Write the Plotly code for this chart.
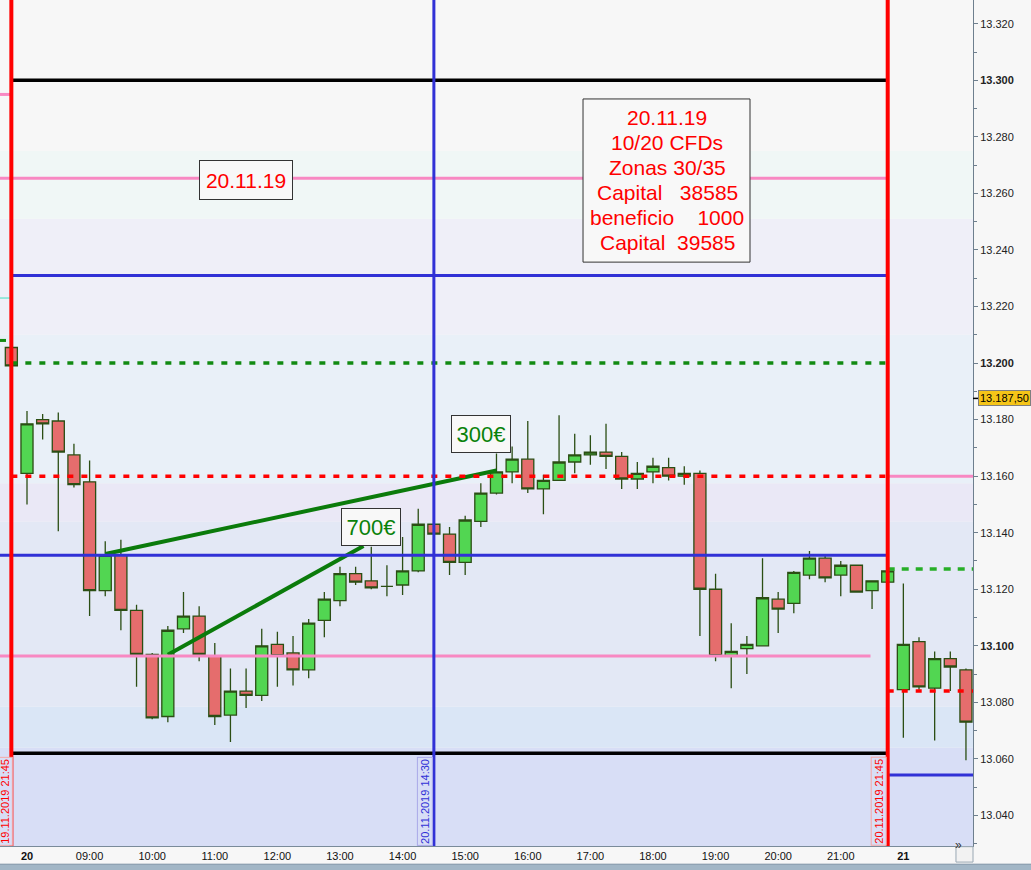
"""DAX 15 min chart 20.11.2019 - niveles, zonas y operaciones del día."""
import plotly.graph_objects as go

# ── Velas 15 min (índice de barra: -1 = 19.11 21:45, 0 = 20.11 08:00 ... 56+ = 21.11) ──
bar_idx = list(range(-1, 61))
opens = [13205.5, 13161, 13180, 13179.5, 13167.5, 13158, 13119.5, 13132, 13112.5, 13097,
         13075, 13106, 13110.5, 13096.5, 13075.5, 13084, 13082.5, 13100.5, 13097.5, 13091.5,
         13109, 13116, 13125.5, 13123, 13121, 13121.5, 13126.5, 13143, 13139.5, 13129.5,
         13144, 13154, 13161.5, 13166, 13155.5, 13158.5, 13165, 13167.5, 13168.5, 13167,
         13159, 13161.5, 13163, 13160, 13161, 13120, 13096.5, 13099, 13100, 13116.5,
         13115, 13125, 13131, 13125, 13128.5, 13119.5, 13122.5, 13084.5, 13101.5, 13085,
         13095.5, 13091.5]
highs = [13207, 13183, 13182, 13182.5, 13171.5, 13165.5, 13137, 13137.5, 13114.5, 13097.5,
         13107, 13119, 13114, 13101, 13092, 13092, 13106, 13105, 13103.5, 13109.5,
         13119, 13128, 13128, 13135, 13128.5, 13138.5, 13148.5, 13143, 13142, 13146,
         13157.5, 13168, 13170.5, 13179.5, 13160.5, 13181.5, 13175, 13174.5, 13178.5, 13168.5,
         13165, 13166.5, 13166.5, 13163.5, 13162, 13125.5, 13108, 13103.5, 13131, 13119,
         13126.5, 13133.5, 13132, 13130, 13128.5, 13123, 13126.5, 13122, 13103, 13098,
         13098, 13092]
lows = [13198, 13150, 13173, 13140.5, 13156, 13110.5, 13117.5, 13105.5, 13085.5, 13074,
        13073, 13104.5, 13094.5, 13072, 13066, 13078, 13080.5, 13085.5, 13086, 13088.5,
        13103, 13114, 13121.5, 13120, 13117.5, 13118, 13126, 13139.5, 13125, 13125,
        13142, 13153.5, 13157.5, 13154, 13146.5, 13158.5, 13161, 13164, 13162.5, 13155.5,
        13155.5, 13157.5, 13158.5, 13157, 13103.5, 13094.5, 13085, 13090, 13100, 13104.5,
        13111.5, 13123.5, 13122.5, 13117.5, 13119, 13113, 13122.5, 13067.5, 13084.5, 13066.5,
        13084, 13059.5]
closes = [13199, 13178.5, 13178.5, 13168.5, 13157, 13119.5, 13132, 13112.5, 13097, 13074.5,
          13105.5, 13110.5, 13097, 13075, 13084, 13082.5, 13100, 13096.5, 13091.5, 13108,
          13116.5, 13125.5, 13122.5, 13120.5, 13121, 13126.5, 13143, 13139.5, 13129.5, 13144.5,
          13154, 13161.5, 13166, 13155.5, 13158.5, 13165, 13167.5, 13168.5, 13167, 13159,
          13161, 13163.5, 13160, 13161, 13120, 13096.5, 13098, 13100.5, 13117, 13113,
          13126, 13131, 13124, 13128.5, 13119, 13123, 13126.5, 13100.5, 13085.5, 13095.5,
          13092.5, 13073]

x_tick_pos = [0, 4, 8, 12, 16, 20, 24, 28, 32, 36, 40, 44, 48, 52, 56]
x_tick_text = ['<b>20</b>', '09:00', '10:00', '11:00', '12:00', '13:00', '14:00', '15:00',
               '16:00', '17:00', '18:00', '19:00', '20:00', '21:00', '<b>21</b>']
y_tick_vals = [13040, 13060, 13080, 13100, 13120, 13140, 13160, 13180, 13200, 13220,
               13240, 13260, 13280, 13300, 13320]
y_tick_text = ['13.040', '13.060', '13.080', '<b>13.100</b>', '13.120', '13.140', '13.160',
               '13.180', '<b>13.200</b>', '13.220', '13.240', '13.260', '13.280',
               '<b>13.300</b>', '13.320']

# ── Niveles del día 20.11 ──
black_levels = [13300, 13062]
pink_levels = [13265.4, 13096.4]
blue_levels = [13231, 13132]
red_dash_level = 13160
green_dash_level = 13200
# ── Niveles para el día 21.11 ──
next_pink = 13160
next_green_dash = 13127.2
next_red_dash = 13084
next_blue = 13054.3
# restos del día anterior
prev_pink = 13295
prev_teal = 13223
prev_green = 13208

# zonas de fondo (precio inferior, precio superior)
zone_lo = [13000, 13064, 13078.5, 13144, 13157.5, 13210, 13251, 13275]
zone_hi = [13064, 13078.5, 13144, 13157.5, 13210, 13251, 13275, 13400]

# líneas verticales
vline_bars = [-1, 26, 55]
vline_labels = ['19.11.2019 21:45', '20.11.2019 14:30', '20.11.2019 21:45']

# operaciones (tendencias dibujadas)
trend_x = [[5, 30], [9, 21.5]]
trend_y = [[13132.5, 13162], [13096.8, 13135.3]]

summary_lines = ['20.11.19', '10/20 CFDs', 'Zonas 30/35', 'Capital\u00a0\u00a0\u00a038585',
                 'beneficio\u00a0\u00a0\u00a0\u00a01000', 'Capital\u00a0\u00a039585']

last_price = 13187.5

RED = '#FF0000'
BLUE = '#3131D6'
PINK = '#F888C2'
BLACK = '#000000'
DKGREEN = '#0B7B0B'
FONT = 'Liberation Sans, Arial'
zone_colors = ['#D8DEF6', '#DAE6F6', '#E3E8F5', '#EAE8F6', '#E9F0F8', '#EFEFF8', '#F0F7F6', '#F7F7F7']

fig = go.Figure()

fig.add_trace(go.Candlestick(
    x=bar_idx, open=opens, high=highs, low=lows, close=closes,
    increasing=dict(fillcolor='#52D652', line=dict(color='#2B4E14', width=1.3)),
    decreasing=dict(fillcolor='#E56D6D', line=dict(color='#2B4E14', width=1.3)),
    whiskerwidth=0, showlegend=False, hoverinfo='skip',
))

for tx, ty in zip(trend_x, trend_y):
    fig.add_trace(go.Scatter(
        x=tx, y=ty, mode='lines', line=dict(color=DKGREEN, width=4),
        showlegend=False, hoverinfo='skip',
    ))

shapes = []
# fondo por zonas
for lo, hi, c in zip(zone_lo, zone_hi, zone_colors):
    shapes.append(dict(type='rect', xref='x domain', yref='y', x0=0, x1=1, y0=lo, y1=hi,
                       fillcolor=c, line=dict(width=0), layer='below'))


def hline(y, x0, x1, color, width=3, dash='solid'):
    return dict(type='line', xref='x', yref='y', x0=x0, x1=x1, y0=y, y1=y,
                line=dict(color=color, width=width, dash=dash))


x_left = -1.725
x_right = 60.45
day_start, day_end = vline_bars[0], vline_bars[2]

for y in black_levels:
    shapes.append(hline(y, day_start, day_end, BLACK, 3.5))
shapes.append(hline(pink_levels[0], x_left, day_end, PINK, 3))
shapes.append(hline(pink_levels[1], x_left, 53.9, PINK, 3))
shapes.append(hline(blue_levels[0], day_start, day_end, BLUE, 3))
shapes.append(hline(blue_levels[1], x_left, day_end, BLUE, 3))
shapes.append(hline(red_dash_level, day_start, day_end, RED, 3.5, '6px,8px'))
shapes.append(hline(green_dash_level, day_start, day_end, '#128A12', 3.5, '6px,8px'))

shapes.append(hline(next_pink, day_end, x_right, PINK, 3))
shapes.append(hline(next_green_dash, day_end, x_right, '#27AE27', 3.5, '7px,7px'))
shapes.append(hline(next_red_dash, day_end, x_right, RED, 3.5, '6px,8px'))
shapes.append(hline(next_blue, day_end, x_right, BLUE, 3))

shapes.append(hline(prev_pink, x_left, day_start, PINK, 3))
shapes.append(hline(prev_teal, x_left, day_start, '#40E0C0', 1))
shapes.append(hline(prev_green, x_left, day_start, '#128A12', 3, '6px,8px'))

for b, c in zip(vline_bars, [RED, BLUE, RED]):
    shapes.append(dict(type='line', xref='x', yref='y domain', x0=b, x1=b, y0=0, y1=1,
                       line=dict(color=c, width=4 if c == RED else 3)))

# recuadro del resumen del día (tapa la línea rosa)
shapes.append(dict(type='rect', xref='x', yref='y', x0=35.53, x1=46.2,
                   y0=13235.7, y1=13293.4, fillcolor='#F8F8F8',
                   line=dict(color='#333333', width=1)))

# marca del precio actual en el eje
shapes.append(dict(type='line', xref='x domain', yref='y', x0=1, x1=1.006,
                   y0=last_price, y1=last_price, line=dict(color='#000', width=1.5)))
# barra inferior / botón »
shapes.append(dict(type='rect', xref='paper', yref='paper', x0=-0.01, x1=1.07,
                   y0=-0.035, y1=-0.0215, fillcolor='#A2B6C6',
                   line=dict(color='#7D93A5', width=1)))
shapes.append(dict(type='rect', xref='paper', yref='paper', x0=0.9825, x1=1.0,
                   y0=-0.019, y1=-0.0008, fillcolor='#F2F2F2',
                   line=dict(color='#9AA8B4', width=1)))

annotations = []
annotations.append(dict(
    x=14, y=13264.7, xref='x', yref='y', showarrow=False,
    text='20.11.19', font=dict(family=FONT, size=21, color=RED),
    width=84, height=30, bgcolor='#F8F8F8', bordercolor='#333333', borderwidth=1, borderpad=4,
))
for k, line in enumerate(summary_lines):
    annotations.append(dict(
        x=40.9, y=13264.6, xref='x', yref='y', showarrow=False,
        yshift=62.5 - 25 * k, text=line, font=dict(family=FONT, size=21, color=RED),
    ))
for txt, bx, by in [('700€', 22, 13142), ('300€', 29, 13175)]:
    annotations.append(dict(
        x=bx, y=by, xref='x', yref='y', showarrow=False, text=txt,
        font=dict(family=FONT, size=22, color='#0A820A'),
        width=50, height=28, bgcolor='#F8F8F8', bordercolor='#333333', borderwidth=1,
        borderpad=4,
    ))

for b, lab, c, bc, sh in zip(vline_bars, vline_labels, [RED, BLUE, RED],
                             ['#F4A8A8', '#A8A8E8', '#F4A8A8'], [1, -1.5, -1.5]):
    annotations.append(dict(
        x=b, y=0, xref='x', yref='paper', xanchor='right', yanchor='bottom',
        xshift=sh, showarrow=False, text=lab, textangle=-90,
        font=dict(family=FONT, size=11, color=c),
        bgcolor='#D8DEF6', bordercolor=bc, borderwidth=1, borderpad=1,
    ))

annotations.append(dict(
    x=1, y=last_price, xref='paper', yref='y', xanchor='left', xshift=5,
    showarrow=False, text='13.187,50',
    font=dict(family=FONT, size=11, color='#000'),
    bgcolor='#F5C518', bordercolor='#7F7F7F', borderwidth=1, borderpad=1,
))
annotations.append(dict(
    x=0.9912, y=-0.0098, xref='paper', yref='paper', showarrow=False, text='»',
    font=dict(family=FONT, size=12, color='#333'),
))

fig.update_layout(
    width=1031, height=870,
    margin=dict(l=0, r=58, t=0, b=24),
    paper_bgcolor='#F7F7F7', plot_bgcolor='#F7F7F7',
    font=dict(family=FONT, size=11, color='#222'),
    boxgap=0.23, boxgroupgap=0,
    showlegend=False,
    shapes=shapes, annotations=annotations,
    xaxis=dict(
        range=[x_left, x_right], rangeslider=dict(visible=False),
        tickmode='array', tickvals=x_tick_pos, ticktext=x_tick_text,
        showgrid=False, zeroline=False, showline=True, linecolor='#7A8B9A',
        ticks='', tickfont=dict(size=11, color='#111'),
    ),
    yaxis=dict(
        side='right', range=[13029.2, 13328.4],
        tickmode='array', tickvals=y_tick_vals, ticktext=y_tick_text,
        showgrid=False, zeroline=False, showline=True, linecolor='#6E7F8E',
        ticks='outside', ticklen=4, tickcolor='#6E7F8E',
        tickfont=dict(size=11, color='#222'),
        minor=dict(ticks='outside', ticklen=3, dtick=10, tick0=13000, tickcolor='#6E7F8E'),
    ),
)

fig.write_html('out.html', config={'displayModeBar': False},
               post_script="document.body.style.margin='0';document.body.style.overflow='hidden';")
